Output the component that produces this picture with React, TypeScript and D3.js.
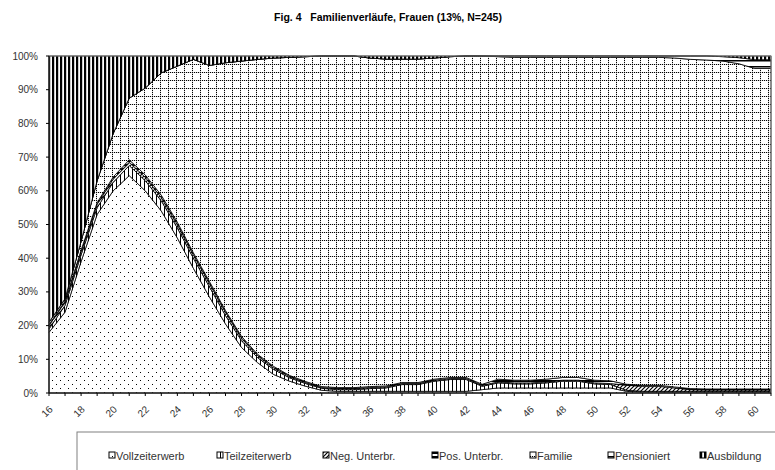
import React from 'react';
import * as d3 from 'd3';

const ages = [16,17,18,19,20,21,22,23,24,25,26,27,28,29,30,31,32,33,34,35,36,37,38,39,40,41,42,43,44,45,46,47,48,49,50,51,52,53,54,55,56,57,58,59,60,61];
const vollzeiterwerb = [18,24,39,53,60,64.5,60,54,46,37,28.5,20.5,13.5,9,5.5,3.5,2,0.8,0.5,0.5,0.5,0.5,0.5,0.5,0.5,0.5,0.5,1,1.5,1.5,1.5,1.5,1.5,1.5,1.5,1.5,0.5,0.3,0.3,0.3,0.3,0.3,0.3,0.3,0.3,0.3];
const teilzeiterwerb = [1,2,2,2,2.5,3,3,3,3,3,3,2.5,2,1.5,1.5,1,0.8,0.6,0.5,0.5,0.8,1,2,2,3,3.5,3.5,1,1.5,1.2,1.2,1.5,2,2,1.2,1,0.3,0.2,0.2,0.2,0.2,0.2,0.2,0.2,0.2,0.2];
const negUnterbr = [1,1,1,1,1,1,1,1,1,1,1,1,0.8,0.6,0.5,0.4,0.3,0.2,0.3,0.3,0.3,0.3,0.3,0.3,0.3,0.3,0.3,0.3,0.3,0.3,0.3,0.3,0.3,0.3,0.3,0.3,1.5,1.5,1.5,1,0.5,0.4,0.4,0.4,0.4,0.4];
const posUnterbr = [0.3,0.3,0.4,0.5,0.6,0.7,0.7,0.7,0.7,0.6,0.6,0.5,0.5,0.4,0.4,0.3,0.3,0.3,0.3,0.3,0.3,0.3,0.3,0.3,0.3,0.3,0.3,0.3,0.8,0.8,0.8,0.8,0.8,0.8,0.8,0.8,0.3,0.3,0.3,0.3,0.3,0.3,0.3,0.3,0.3,0.3];
const familie = [0.7,0.7,2.6,6.5,12.9,18.3,25.8,36.3,46.3,57.4,64.1,73.5,81.7,87.5,91.5,94.4,96.4,98.1,98.4,98.4,97.5,97,96,96,95.3,95.2,95.4,97.4,95.7,95.8,95.8,95.5,95,95,95.8,96,97,97.3,97.3,97.6,97.7,97.6,97.3,96.5,95.1,95.1];
const pensioniert = [0,0,0,0,0,0,0,0,0,0,0,0,0,0,0,0,0,0,0,0,0,0,0,0,0,0,0,0,0.2,0.4,0.4,0.4,0.4,0.4,0.4,0.4,0.4,0.4,0.4,0.6,1,1.2,1.3,1.8,2.6,2.6];
const ausbildung = [79,72,55,37,23,12.5,9.5,5,3,1,2.8,2,1.5,1,0.6,0.4,0.2,0,0,0,0.6,0.9,0.9,0.9,0.6,0.2,0,0,0,0,0,0,0,0,0,0,0,0,0,0,0,0,0.2,0.5,1.1,1.1];

const seriesNames = ['Vollzeiterwerb','Teilzeiterwerb','Neg. Unterbr.','Pos. Unterbr.','Familie','Pensioniert','Ausbildung'];
const seriesData = [vollzeiterwerb, teilzeiterwerb, negUnterbr, posUnterbr, familie, pensioniert, ausbildung];
const yTickValues = [0,0.1,0.2,0.3,0.4,0.5,0.6,0.7,0.8,0.9,1];
const xTickLabels = [16,18,20,22,24,26,28,30,32,34,36,38,40,42,44,46,48,50,52,54,56,58,60];
const title = 'Fig. 4   Familienverläufe, Frauen (13%, N=245)';

const patternIds = ['pVoll','pTeil','pNeg','pPos','pFam','pPens','pAusb'];
const legendX = [109, 217, 323, 432, 530, 608, 700];

const FONT = '"Liberation Sans", Arial, sans-serif';

export default function App() {
  const W = 775, H = 470;
  const left = 49, right = 771, top = 56, bottom = 393;
  const x = d3.scaleLinear().domain([ages[0], ages[ages.length - 1]]).range([left, right]);
  const y = d3.scaleLinear().domain([0, 1]).range([bottom, top]);

  const rows = ages.map((a, i) => {
    const r: any = { age: a };
    seriesNames.forEach((n, k) => { r[n] = seriesData[k][i]; });
    return r;
  });
  const stacked = d3.stack().keys(seriesNames).offset(d3.stackOffsetExpand)(rows);
  const area = d3.area<any>()
    .x((d: any) => x(d.data.age))
    .y0((d: any) => y(d[0]))
    .y1((d: any) => y(d[1]));

  const famDots = [];
  for (let i = 0; i < 8; i += 2) {
    famDots.push(<rect key={'h' + i} x={i} y={0} width={1} height={1} fill="#000" />);
    famDots.push(<rect key={'v' + i} x={0} y={i} width={1} height={1} fill="#000" />);
  }

  return (
    <svg width={W} height={H} style={{ position: 'absolute', left: 0, top: 0, background: '#fff' }}>
      <defs>
        <pattern id="pVoll" width={8} height={8} patternUnits="userSpaceOnUse">
          <rect width={8} height={8} fill="#fff" />
          <rect x={0} y={0} width={1} height={1} fill="#000" />
          <rect x={4} y={4} width={1} height={1} fill="#000" />
        </pattern>
        <pattern id="pTeil" width={4} height={4} patternUnits="userSpaceOnUse">
          <rect width={4} height={4} fill="#fff" />
          <rect x={0} y={0} width={1} height={4} fill="#000" />
        </pattern>
        <pattern id="pNeg" width={4} height={4} patternUnits="userSpaceOnUse">
          <rect width={4} height={4} fill="#fff" />
          <path d="M-1,1 L1,-1 M0,4 L4,0 M3,5 L5,3" stroke="#000" strokeWidth={1.2} />
        </pattern>
        <pattern id="pPos" width={4} height={4} patternUnits="userSpaceOnUse">
          <rect width={4} height={4} fill="#fff" />
          <rect x={0} y={0} width={4} height={2} fill="#000" />
        </pattern>
        <pattern id="pFam" width={8} height={8} patternUnits="userSpaceOnUse">
          <rect width={8} height={8} fill="#fff" />
          <rect x={0} y={0} width={8} height={1} fill="#d4d4d4" />
          <rect x={0} y={0} width={1} height={8} fill="#d4d4d4" />
          {famDots}
        </pattern>
        <pattern id="pPens" width={6} height={6} patternUnits="userSpaceOnUse">
          <rect width={6} height={6} fill="#fff" />
          <rect x={0} y={0} width={6} height={1.5} fill="#000" />
        </pattern>
        <pattern id="pAusb" width={4} height={4} patternUnits="userSpaceOnUse">
          <rect width={4} height={4} fill="#fff" />
          <rect x={0} y={0} width={2.2} height={4} fill="#000" />
        </pattern>
      </defs>

      <text x={388} y={21} textAnchor="middle" fontFamily={FONT} fontWeight="bold" fontSize={10.5} style={{ whiteSpace: 'pre' }}>{title}</text>

      <g>
        {stacked.map((s, k) => (
          <path key={seriesNames[k]} d={area(s as any) || ''} fill={`url(#${patternIds[k]})`} stroke="#000" strokeWidth={0.8} strokeLinejoin="round" />
        ))}
      </g>

      <rect x={left} y={top} width={right - left} height={bottom - top} fill="none" stroke="#808080" strokeWidth={1} />
      <line x1={left} x2={left} y1={top} y2={bottom} stroke="#000" strokeWidth={1} />
      <line x1={left} x2={right} y1={bottom} y2={bottom} stroke="#000" strokeWidth={1.2} />

      {yTickValues.map((t) => (
        <g key={'y' + t}>
          <line x1={left - 3} x2={left} y1={y(t)} y2={y(t)} stroke="#000" />
          <text x={38} y={y(t) + 3.5} textAnchor="end" fontFamily={FONT} fontSize={10} fill="#333">{d3.format('.0%')(t)}</text>
        </g>
      ))}

      {ages.map((a) => (
        <line key={'xt' + a} x1={x(a)} x2={x(a)} y1={bottom} y2={bottom + 3} stroke="#000" />
      ))}
      {xTickLabels.map((a) => (
        <text key={'xl' + a} transform={`translate(${x(a) + 4.4},${410})rotate(-45)`} textAnchor="end" fontFamily={FONT} fontSize={10} fill="#333">{a}</text>
      ))}

      <rect x={77} y={432} width={720} height={60} fill="#fff" stroke="#808080" strokeWidth={1} />
      {seriesNames.map((n, k) => (
        <g key={'lg' + n}>
          <rect x={legendX[k]} y={452} width={6} height={6} fill={`url(#${patternIds[k]})`} stroke="#000" strokeWidth={1} />
          <text x={legendX[k] + 7} y={460} fontFamily={FONT} fontSize={11} fill="#333">{n}</text>
        </g>
      ))}
    </svg>
  );
}
